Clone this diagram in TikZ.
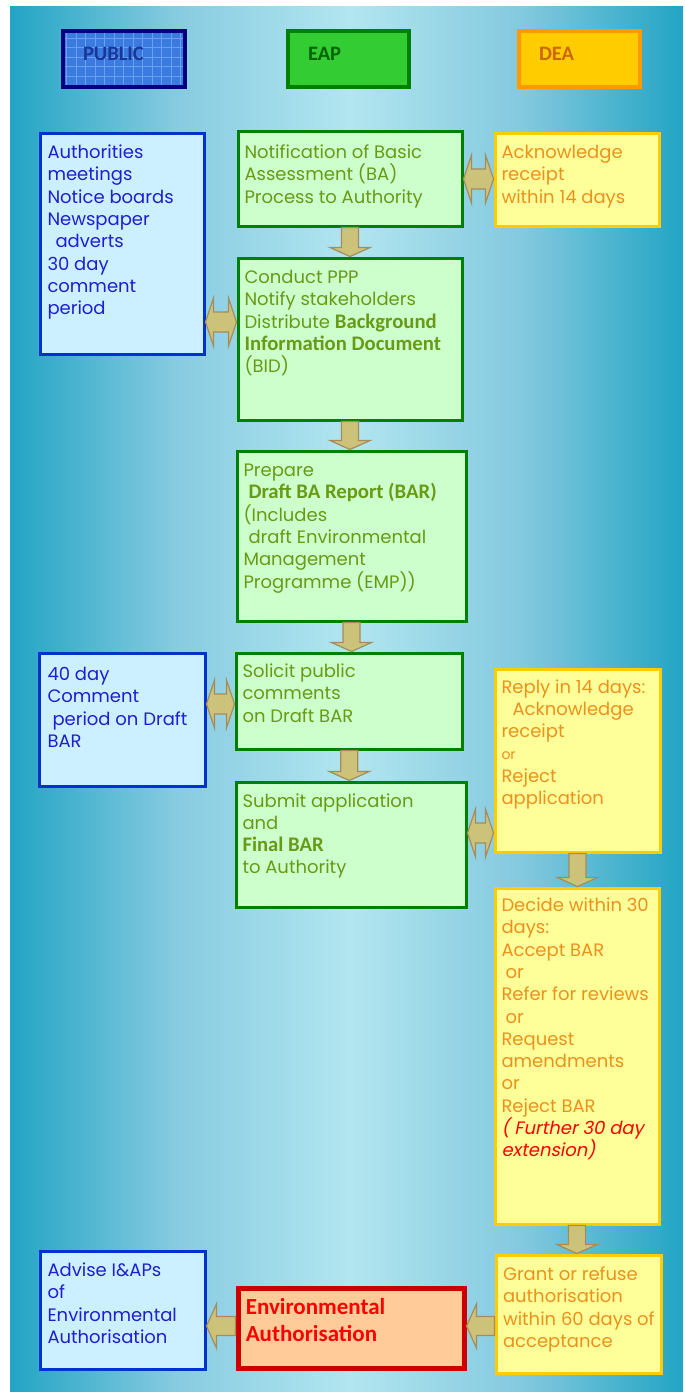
\documentclass[tikz,border=0pt]{standalone}
\usepackage{fontspec}
\setmainfont{Poppins}
\newfontfamily\carl{Carlito}
\newfontfamily\popslant[FakeSlant=0.2]{Poppins}
\usetikzlibrary{calc}

\definecolor{teal1}{RGB}{34,164,196}
\definecolor{bgmidL}{RGB}{135,203,224}
\definecolor{bglight}{RGB}{178,230,240}
\definecolor{bgmidR}{RGB}{130,200,222}
\definecolor{pubedge}{RGB}{0,51,204}
\definecolor{pubfill}{RGB}{204,240,255}
\definecolor{pubtext}{RGB}{30,30,210}
\definecolor{eapedge}{RGB}{0,128,0}
\definecolor{eapfill}{RGB}{204,255,204}
\definecolor{eaptext}{RGB}{104,154,20}
\definecolor{deaedge}{RGB}{255,204,0}
\definecolor{deafill}{RGB}{255,255,153}
\definecolor{deatext}{RGB}{235,145,30}
\definecolor{eaedge}{RGB}{204,0,0}
\definecolor{eafill}{RGB}{255,204,153}
\definecolor{arrfill}{RGB}{204,194,122}
\definecolor{arredge}{RGB}{166,140,92}
\definecolor{hpfill}{RGB}{59,123,224}
\definecolor{hpgrid}{RGB}{105,160,245}
\definecolor{hpedge}{RGB}{0,0,128}
\definecolor{hptext}{RGB}{25,55,150}
\definecolor{hefill}{RGB}{51,204,51}
\definecolor{heedge}{RGB}{0,128,0}
\definecolor{hetext}{RGB}{0,100,0}
\definecolor{hdfill}{RGB}{255,204,0}
\definecolor{hdedge}{RGB}{255,153,0}
\definecolor{hdtext}{RGB}{204,102,0}

% #1 width, #2 height, #3 first baseline, #4 left indent, #5 text
\newcommand\bx[5]{\parbox[c][#2pt][t]{#1pt}{\leftskip=#4pt\rightskip=-60pt plus 1fil\parindent=0pt\parfillskip=0pt plus 1fil\baselineskip=22.3pt\lineskiplimit=-30pt\rule{0pt}{#3pt}#5\par}}
\newcommand\hdrfont{\carl\bfseries\fontsize{20.5}{22}\selectfont}
\newcommand\eapbold[1]{{\carl\bfseries\fontsize{20.7}{22.3}\selectfont #1}}

\tikzset{
  box/.style={inner sep=0pt, anchor=north west, line width=3pt},
  pub/.style={box, draw=pubedge, fill=pubfill, text=pubtext},
  eap/.style={box, draw=eapedge, fill=eapfill, text=eaptext},
  dea/.style={box, draw=deaedge, fill=deafill, text=deatext},
  envauth/.style={box, draw=eaedge, fill=eafill, text=red, line width=5pt},
  hdr/.style={inner sep=0pt, anchor=north west, line width=4pt},
  blk/.style={fill=arrfill, draw=arredge, line width=1.2pt, line join=miter}
}

\newcommand\downblk[2]{%
  \path[blk] let \p1=(#1.south), \p2=(#2.north) in
   (\x1-8.5pt,\y1) -- (\x1+8.5pt,\y1) -- (\x1+8.5pt,\y2+9pt) -- (\x1+20pt,\y2+9pt)
   -- (\x1,\y2) -- (\x1-20pt,\y2+9pt) -- (\x1-8.5pt,\y2+9pt) -- cycle;}
\newcommand\dblblk[3]{%
  \path[blk] let \p1=(#1.east), \p2=(#2.west), \p3=(0,#3) in
   (\x1,\y3) -- (\x1+8pt,\y3+24pt) -- (\x1+8pt,\y3+10pt) -- (\x2-8pt,\y3+10pt)
   -- (\x2-8pt,\y3+24pt) -- (\x2,\y3) -- (\x2-8pt,\y3-24pt) -- (\x2-8pt,\y3-10pt)
   -- (\x1+8pt,\y3-10pt) -- (\x1+8pt,\y3-24pt) -- cycle;}
\newcommand\leftblk[3]{%
  \path[blk] let \p1=(#1.west), \p2=(#2.east), \p3=(0,#3) in
   (\x2,\y3) -- (\x2+10pt,\y3+22pt) -- (\x2+10pt,\y3+9.5pt) -- (\x1,\y3+9.5pt)
   -- (\x1,\y3-9.5pt) -- (\x2+10pt,\y3-9.5pt) -- (\x2+10pt,\y3-22pt) -- cycle;}

\begin{document}
\begin{tikzpicture}[x=1pt, y=-1pt, every node/.style={font=\fontsize{18}{22.3}\selectfont}]
\useasboundingbox (0,0) rectangle (685,1392);
\fill[white] (0,0) rectangle (685,1392);
% background gradient
\shade[left color=teal1, right color=bgmidL] (10,6) rectangle (176,1392);
\shade[left color=bgmidL, right color=bglight] (175,6) rectangle (351,1392);
\shade[left color=bglight, right color=bgmidR] (350,6) rectangle (527,1392);
\shade[left color=bgmidR, right color=teal1] (526,6) rectangle (683,1392);

% header PUBLIC grid background
\fill[hpfill] (61,29) rectangle (183,85);
\begin{scope}
  \clip (61,29) rectangle (183,85);
  \draw[hpgrid, line width=0.6pt, step=9.5pt] (61,29) grid (183,85);
\end{scope}
\node[hdr, draw=hpedge, text=hptext] (hP) at (61,29) {\bx{122}{56}{29}{20}{\hdrfont PUBLIC}};
\node[hdr, draw=heedge, fill=hefill, text=hetext] (hE) at (286,29) {\bx{121}{56}{29}{20}{\hdrfont EAP}};
\node[hdr, draw=hdedge, fill=hdfill, text=hdtext] (hD) at (517,29) {\bx{121}{56}{29}{20}{\hdrfont DEA}};

% PUBLIC column
\node[pub] (p1) at (38.5,131.5) {\bx{164}{221}{25.5}{7.5}{Authorities\\meetings\\Notice boards\\Newspaper\\\hspace*{8pt}adverts\\30 day\\comment\\period}};
\node[pub] (p2) at (38,652) {\bx{165.5}{133}{27}{8}{40 day\\Comment\\\hspace*{5pt}period on Draft\\BAR}};
\node[pub] (p3) at (38.5,1249.5) {\bx{165}{118}{25.5}{7.5}{Advise I\&APs\\of\\Environmental\\Authorisation}};

% EAP column
\node[eap] (e1) at (236.5,129.5) {\bx{224}{95}{27.5}{6.5}{Notification of Basic\\Assessment (BA)\\Process to Authority}};
\node[eap] (e2) at (236.5,256.5) {\bx{224}{162}{25.5}{6.5}{Conduct PPP\\Notify stakeholders\\Distribute \eapbold{Background}\\\eapbold{Information Document}\\(BID)}};
\node[eap] (e3) at (235.5,449.5) {\bx{229}{170}{25.5}{6.5}{Prepare\\\hspace*{5pt}\eapbold{Draft BA Report (BAR)}\\(Includes\\\hspace*{5pt}draft Environmental\\Management\\Programme (EMP))}};
\node[eap] (e4) at (234.5,651.5) {\bx{226.5}{96}{24.5}{6.5}{Solicit public\\comments\\on Draft BAR}};
\node[eap] (e5) at (234.5,780.5) {\bx{230}{125}{25}{6.5}{Submit application\\and\\\eapbold{Final BAR}\\to Authority}};
\node[envauth] (ea) at (235.5,1285.5) {\bx{226}{80}{26.8}{7.8}{\baselineskip=26.7pt\carl\bfseries\fontsize{23}{26.7}\selectfont Environmental\\Authorisation}};

% DEA column
\node[dea] (d1) at (493.5,131.5) {\bx{164}{93}{25.5}{6.5}{Acknowledge\\receipt\\within 14 days}};
\node[dea] (d2) at (493.5,667.5) {\bx{165}{183}{24}{6.5}{Reply in 14 days:\\\hspace*{11pt}Acknowledge\\receipt\\{\fontsize{14}{22.3}\selectfont or}\\Reject\\application}};
\node[dea] (d3) at (493.5,886.5) {\bx{164}{336}{23.5}{6.5}{Decide within 30\\days:\\Accept BAR\\\hspace*{4pt}or\\Refer for reviews\\\hspace*{4pt}or\\Request\\amendments\\or\\Reject BAR\\{\color{red}\popslant ( Further 30 day\\extension)}}};
\node[dea] (d4) at (494.5,1253.5) {\bx{165}{118}{25.5}{7}{Grant or refuse\\authorisation\\within 60 days of\\acceptance}};

% connectors (block arrows)
\downblk{e1}{e2}
\downblk{e2}{e3}
\downblk{e3}{e4}
\downblk{e4}{e5}
\downblk{d2}{d3}
\downblk{d3}{d4}
\dblblk{e1}{d1}{179}
\dblblk{p1}{e2}{322}
\dblblk{p2}{e4}{704}
\dblblk{e5}{d2}{833}
\leftblk{d4}{ea}{1326}
\leftblk{ea}{p3}{1326}
\end{tikzpicture}
\end{document}
